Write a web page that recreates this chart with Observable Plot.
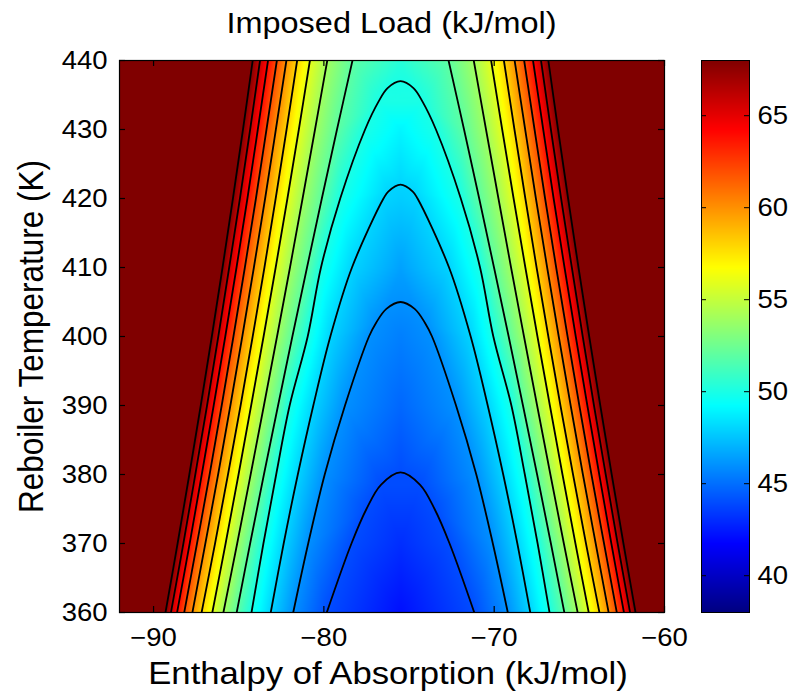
<!DOCTYPE html>
<html>
<head>
<meta charset="utf-8">
<script src="https://cdn.jsdelivr.net/npm/d3@7"></script>
<script src="https://cdn.jsdelivr.net/npm/@observablehq/plot@0.6"></script>
<style>
  body { margin: 0; background: #fff; }
  #wrap { position: relative; width: 794px; height: 694px; overflow: hidden; background: #fff; }
  #wrap svg { position: absolute; top: 0; }
  #title { position: absolute; left: 119px; width: 545px; top: 8px; text-align: center;
           font-family: "Liberation Sans", Arial, sans-serif; font-size: 29.5px; line-height: 30px;
           color: #000; transform: scaleX(1.1); white-space: nowrap; }
</style>
</head>
<body>
<div id="wrap"><div id="title"></div></div>
<script>
// ---- data ----
const temperatures = [360, 370, 380, 390, 400, 410, 420, 430, 440];          // K (rows)
const loadLevels   = [44, 46, 48, 50, 52, 54, 56, 58, 60, 62, 64, 66, 68];    // contour levels, kJ/mol
// half-width (kJ/mol) of each contour from the ridge, per temperature row; null = contour absent
const halfWidth = [
  [4.33, 6.30, 7.62, 8.75, 9.62, 10.40, 11.05, 11.68, 12.22, 12.70, 13.12, 13.48, 13.80],
  [2.88, 5.42, 6.86, 8.05, 8.83,  9.59, 10.27, 10.89, 11.46, 11.95, 12.38, 12.75, 13.09],
  [null, 4.45, 6.03, 7.30, 8.02,  8.80,  9.51, 10.13, 10.71, 11.21, 11.67, 12.05, 12.40],
  [null, 3.26, 5.12, 6.51, 7.19,  8.02,  8.77,  9.39,  9.99, 10.50, 10.97, 11.36, 11.73],
  [null, 1.85, 4.12, 5.45, 6.35,  7.25,  8.04,  8.68,  9.29,  9.81, 10.29, 10.70, 11.08],
  [null, null, 2.85, 4.67, 5.49,  6.49,  7.33,  7.99,  8.61,  9.14,  9.63, 10.06, 10.45],
  [null, null, 1.00, 3.54, 4.62,  5.75,  6.64,  7.33,  7.95,  8.49,  8.99,  9.43,  9.84],
  [null, null, null, 2.08, 3.73,  5.02,  5.97,  6.69,  7.32,  7.87,  8.38,  8.83,  9.25],
  [null, null, null, null, 2.82,  4.30,  5.32,  6.07,  6.70,  7.26,  7.78,  8.25,  8.68]
];
const ridgeEnthalpy = -75.5;                                                   // kJ/mol
const ridgeLoad = [42.2, 43.1, 43.95, 44.8, 45.5, 46.5, 47.8, 49.0, 50.4];      // load on the ridge per row
const closedLevels = [44, 46, 48, 50];
const apexTemperature = [380.3, 405, 422, 437];
const nearApexTemperature = [[375, 378.5], [402, 404], [421], [434, 436]];
const nearApexHalfWidth   = [[2.0, 1.15], [1.43, 0.83], [0.72], [1.3, 0.76]];
const clippedLoad = 72;   // beyond the top of the colour range (shown dark red)
const xDomain = [-92, -60];
const yDomain = [360, 440];
const colorDomain = [38, 68];
const xTicks = [-90, -80, -70, -60];
const yTicks = [360, 370, 380, 390, 400, 410, 420, 430, 440];
const colorTicks = [40, 45, 50, 55, 60, 65];
const titleText = "Imposed Load (kJ/mol)";
const xLabel = "Enthalpy of Absorption (kJ/mol)";
const yLabel = "Reboiler Temperature (K)";

// ---- build tables for the library ----
const fieldPoints = [];
temperatures.forEach((T, i) => {
  fieldPoints.push({x: xDomain[0], T, load: clippedLoad}, {x: xDomain[1], T, load: clippedLoad});
  fieldPoints.push({x: ridgeEnthalpy, T, load: ridgeLoad[i]});
  loadLevels.forEach((L, j) => {
    const w = halfWidth[i][j];
    if (w != null) fieldPoints.push({x: ridgeEnthalpy - w, T, load: L}, {x: ridgeEnthalpy + w, T, load: L});
  });
});
closedLevels.forEach((L, k) => {
  fieldPoints.push({x: ridgeEnthalpy, T: apexTemperature[k], load: L});
  nearApexTemperature[k].forEach((T, m) => {
    const w = nearApexHalfWidth[k][m];
    fieldPoints.push({x: ridgeEnthalpy - w, T, load: L}, {x: ridgeEnthalpy + w, T, load: L});
  });
});

const contourPoints = [];
loadLevels.forEach((L, j) => {
  const side = [];
  temperatures.forEach((T, i) => { const w = halfWidth[i][j]; if (w != null) side.push({T, w}); });
  const k = closedLevels.indexOf(L);
  if (k >= 0) {
    nearApexTemperature[k].forEach((T, m) => side.push({T, w: nearApexHalfWidth[k][m]}));
    side.sort((a, b) => a.T - b.T);
    const id = "c" + L;
    side.forEach(p => contourPoints.push({id, x: ridgeEnthalpy - p.w, T: p.T}));
    contourPoints.push({id, x: ridgeEnthalpy, T: apexTemperature[k]});
    side.slice().reverse().forEach(p => contourPoints.push({id, x: ridgeEnthalpy + p.w, T: p.T}));
  } else {
    side.forEach(p => contourPoints.push({id: "l" + L, x: ridgeEnthalpy - p.w, T: p.T}));
    side.forEach(p => contourPoints.push({id: "r" + L, x: ridgeEnthalpy + p.w, T: p.T}));
  }
});

// MATLAB "jet" colour map over the colour range
const span = colorDomain[1] - colorDomain[0];
const colorScale = {
  type: "linear",
  domain: [0, 0.125, 0.375, 0.625, 0.875, 1].map(t => colorDomain[0] + t * span),
  range: ["#000080", "#0000ff", "#00ffff", "#ffff00", "#ff0000", "#800000"],
  interpolate: "rgb",
  clamp: true
};
const FONT = "'Liberation Sans', Arial, Helvetica, sans-serif";
const TICK = 6;
const W = 794, H = 694, ML = 119, MR = 130, MT = 60, MB = 82;
const frameW = W - ML - MR, frameH = H - MT - MB;

const main = Plot.plot({
  width: W, height: H,
  marginLeft: ML, marginRight: MR, marginTop: MT, marginBottom: MB,
  style: {fontFamily: FONT, color: "black", background: "transparent", overflow: "visible"},
  x: {domain: xDomain},
  y: {domain: yDomain},
  color: colorScale,
  marks: [
    Plot.raster(fieldPoints, {x: "x", y: "T", fill: "load", interpolate: "barycentric", pixelSize: 1}),
    Plot.line(contourPoints, {x: "x", y: "T", z: "id", curve: "catmull-rom", stroke: "black", strokeWidth: 1.8, clip: true}),
    Plot.frame({stroke: "black", strokeWidth: 1.2}),
    // inward tick marks on all four sides
    Plot.tickX(xTicks, {x: d => d, insetTop: frameH - TICK, stroke: "black", strokeWidth: 1.2}),
    Plot.tickX(xTicks, {x: d => d, insetBottom: frameH - TICK, stroke: "black", strokeWidth: 1.2}),
    Plot.tickY(yTicks, {y: d => d, insetRight: frameW - TICK, stroke: "black", strokeWidth: 1.2}),
    Plot.tickY(yTicks, {y: d => d, insetLeft: frameW - TICK, stroke: "black", strokeWidth: 1.2}),
    Plot.axisX(xTicks, {anchor: "bottom", tickSize: 0, tickPadding: 16, fontSize: 25, label: null}),
    Plot.axisY(yTicks, {anchor: "left", tickSize: 0, tickPadding: 12, fontSize: 25, label: null}),
    Plot.text([xLabel], {frameAnchor: "bottom", dy: 61, dx: -4, fontSize: 31.5, textAnchor: "middle", lineAnchor: "middle", text: d => d, fill: "black"}),
    Plot.text([yLabel], {frameAnchor: "left", dx: -88, rotate: -90, fontSize: 31.5, textAnchor: "middle", lineAnchor: "middle", text: d => d, fill: "black"})
  ]
});

const barW = 114, barML = 21, barMR = 45;
const bar = Plot.plot({
  width: barW, height: H,
  marginLeft: barML, marginRight: barMR, marginTop: MT, marginBottom: MB,
  style: {fontFamily: FONT, color: "black", background: "transparent", overflow: "visible"},
  x: {domain: [0, 1], axis: null},
  y: {domain: colorDomain},
  color: colorScale,
  marks: [
    Plot.raster({x1: 0, x2: 1, y1: colorDomain[0], y2: colorDomain[1], fill: (x, y) => y, pixelSize: 1}),
    Plot.frame({stroke: "black", strokeWidth: 1}),
    Plot.tickY(colorTicks, {y: d => d, insetRight: barW - barML - barMR - 5, stroke: "black"}),
    Plot.tickY(colorTicks, {y: d => d, insetLeft: barW - barML - barMR - 5, stroke: "black"}),
    Plot.axisY(colorTicks, {anchor: "right", tickSize: 0, tickPadding: 8, fontSize: 25, label: null})
  ]
});

const wrap = document.getElementById("wrap");
document.getElementById("title").textContent = titleText;
main.style.left = "0px";
bar.style.left = "680px";
wrap.appendChild(main);
wrap.appendChild(bar);

// the reference text is drawn somewhat wider than the font's natural proportions
function stretchText(svg, s) {
  const box = svg.getBoundingClientRect();
  svg.querySelectorAll("text").forEach(t => {
    const r = t.getBoundingClientRect();
    if (!r.width || !t.textContent) return;
    const tr = t.getAttribute("transform") || "";
    const anchor = getComputedStyle(t).textAnchor;
    let px = (r.left + r.right) / 2;
    if (!tr.includes("rotate")) {
      if (anchor === "end") px = r.right;
      else if (anchor === "start") px = r.left;
    }
    px -= box.left;
    const m = t.parentNode.getCTM();
    const lx = px - (m ? m.e : 0);
    t.setAttribute("transform", `translate(${lx},0) scale(${s},1) translate(${-lx},0) ${tr}`);
  });
}
stretchText(main, 1.1);
stretchText(bar, 1.1);
</script>
</body>
</html>
